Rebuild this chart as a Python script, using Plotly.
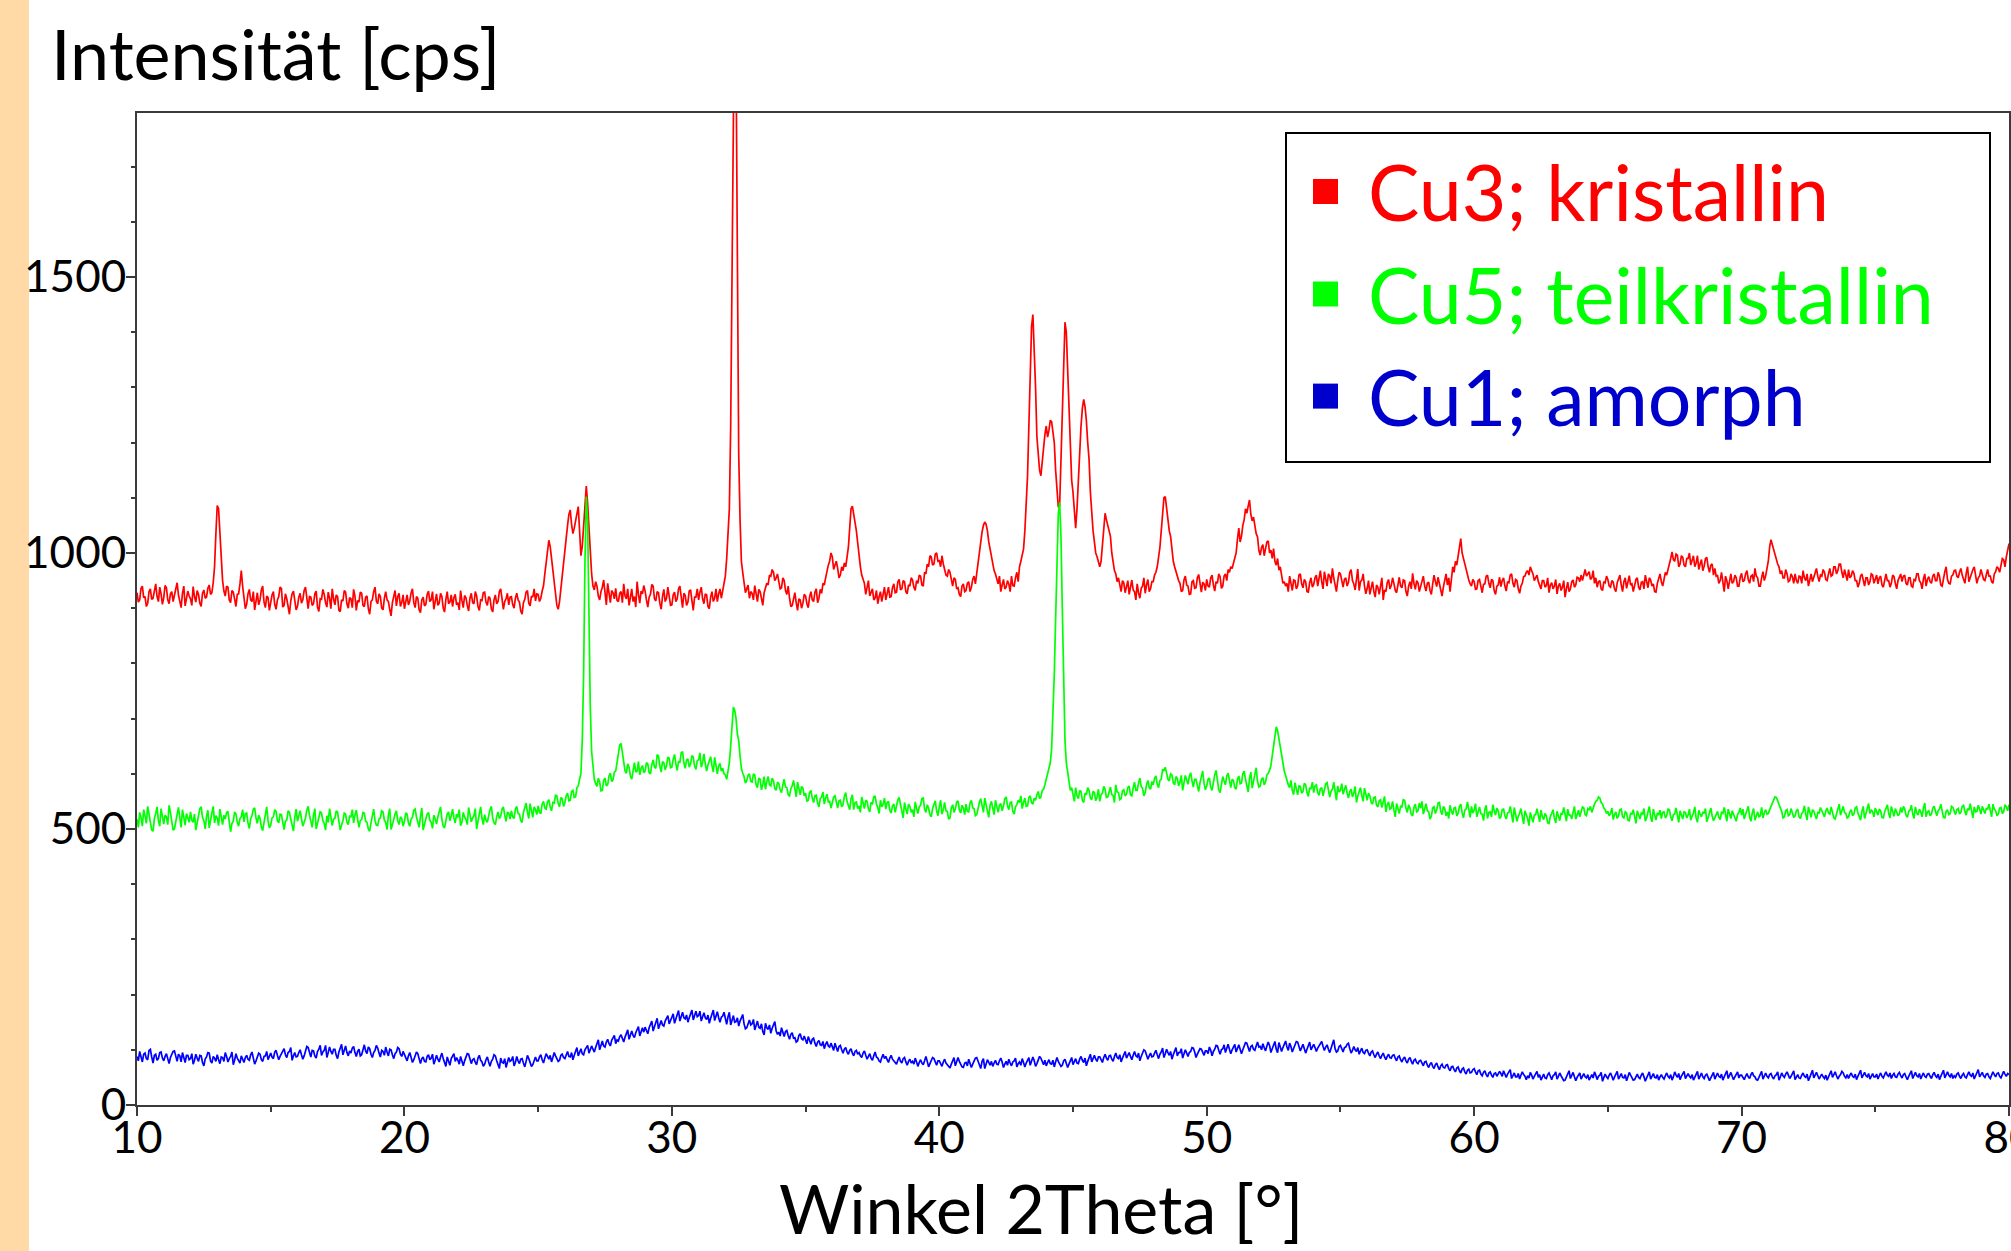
import plotly.graph_objects as go

# ---------------- data (0.05 deg steps) ----------------
two_theta_start = 10.0
two_theta_step = 0.05

cu3_kristallin = [
    928, 911, 915, 936, 940, 919, 921, 903, 909, 930, 935, 916, 918, 929, 944, 921, 912, 938, 926, 907,
    919, 941, 937, 915, 908, 926, 930, 912, 922, 934, 946, 924, 913, 901, 927, 940, 904, 918, 931, 922,
    917, 905, 939, 921, 911, 932, 925, 909, 903, 927, 933, 918, 920, 936, 942, 925, 928, 946, 975, 1035,
    1086, 1080, 1040, 985, 950, 931, 922, 940, 938, 915, 910, 932, 929, 917, 903, 925, 926, 944, 968, 940,
    921, 899, 907, 926, 934, 915, 912, 930, 897, 918, 928, 906, 915, 933, 940, 911, 901, 922, 919, 896,
    912, 924, 930, 907, 898, 915, 921, 938, 936, 902, 905, 926, 917, 900, 889, 913, 926, 931, 910, 897,
    903, 920, 927, 909, 915, 932, 938, 912, 899, 921, 920, 905, 908, 926, 931, 902, 894, 917, 916, 934,
    925, 910, 902, 929, 918, 899, 935, 917, 906, 924, 921, 896, 894, 915, 913, 932, 929, 908, 900, 919,
    917, 901, 934, 922, 896, 914, 911, 929, 927, 905, 903, 920, 922, 899, 889, 912, 915, 930, 938, 913,
    908, 926, 921, 900, 897, 918, 930, 915, 912, 898, 886, 910, 919, 932, 904, 921, 927, 903, 910, 924,
    899, 913, 924, 906, 913, 928, 935, 910, 901, 921, 918, 897, 892, 915, 920, 904, 907, 925, 931, 912,
    915, 930, 898, 912, 926, 905, 909, 927, 921, 900, 893, 916, 930, 908, 911, 924, 903, 919, 925, 906,
    910, 897, 932, 914, 901, 923, 919, 905, 895, 918, 927, 910, 908, 930, 922, 903, 896, 915, 914, 928,
    929, 911, 905, 921, 918, 899, 893, 915, 924, 908, 912, 930, 935, 917, 898, 912, 917, 927, 906, 920,
    921, 906, 900, 918, 927, 915, 911, 895, 889, 910, 916, 929, 932, 909, 904, 922, 920, 935, 913, 926,
    925, 912, 918, 931, 940, 962, 985, 1010, 1023, 1012, 990, 968, 948, 925, 905, 898, 912, 935, 960, 985,
    1010, 1032, 1050, 1070, 1078, 1052, 1035, 1045, 1058, 1075, 1084, 1040, 995, 1012, 1050, 1095, 1121, 1090, 1045, 1000,
    962, 940, 933, 948, 940, 922, 915, 930, 938, 951, 921, 906, 945, 925, 910, 932, 928, 917, 936, 914,
    912, 927, 930, 910, 944, 922, 917, 935, 905, 919, 935, 912, 921, 902, 948, 925, 909, 931, 926, 941,
    931, 915, 902, 920, 925, 943, 940, 917, 913, 930, 928, 909, 898, 921, 934, 912, 918, 938, 922, 905,
    906, 924, 929, 912, 917, 935, 940, 918, 901, 927, 923, 905, 911, 931, 933, 914, 896, 920, 920, 935,
    915, 929, 938, 917, 908, 926, 924, 903, 899, 920, 930, 912, 918, 935, 912, 926, 935, 918, 930, 945,
    958, 990, 1040, 1080, 1230, 1500, 1990, 2050, 1900, 1450, 1180, 1060, 985, 965, 950, 928, 935, 942, 918, 930,
    927, 915, 941, 925, 912, 934, 930, 918, 905, 928, 936, 945, 942, 960, 958, 970, 965, 950, 955, 962,
    948, 935, 937, 955, 950, 932, 925, 940, 918, 903, 905, 921, 928, 910, 896, 917, 915, 900, 909, 925,
    922, 908, 901, 920, 930, 915, 912, 929, 935, 910, 918, 934, 927, 945, 942, 955, 968, 978, 985, 1000,
    993, 970, 978, 985, 972, 955, 960, 975, 968, 982, 975, 990, 1010, 1045, 1080, 1085, 1070, 1062, 1040, 1018,
    993, 975, 960, 950, 945, 925, 937, 950, 922, 930, 935, 915, 918, 932, 908, 921, 930, 912, 924, 938,
    915, 930, 938, 920, 921, 937, 944, 928, 929, 948, 952, 933, 935, 950, 948, 930, 926, 942, 940, 955,
    951, 938, 932, 950, 945, 960, 958, 942, 940, 965, 962, 980, 975, 995, 993, 978, 980, 998, 1000, 985,
    986, 975, 995, 980, 972, 960, 958, 970, 965, 948, 940, 955, 952, 935, 937, 925, 921, 940, 944, 930,
    932, 945, 948, 930, 938, 952, 958, 944, 965, 980, 1000, 1025, 1038, 1050, 1056, 1052, 1040, 1020, 1005, 990,
    979, 968, 962, 950, 944, 958, 930, 942, 952, 935, 938, 950, 944, 930, 958, 941, 940, 955, 965, 948,
    975, 985, 995, 1007, 1040, 1083, 1140, 1230, 1330, 1410, 1432, 1380, 1300, 1210, 1175, 1150, 1140, 1165, 1195, 1215,
    1230, 1210, 1222, 1240, 1238, 1215, 1200, 1150, 1120, 1083, 1085, 1180, 1270, 1360, 1418, 1400, 1330, 1260, 1180, 1132,
    1110, 1070, 1045, 1080, 1140, 1174, 1230, 1262, 1278, 1265, 1240, 1200, 1170, 1110, 1063, 1040, 1020, 1000, 993, 985,
    975, 985, 1010, 1045, 1072, 1060, 1050, 1045, 1030, 1000, 979, 968, 962, 948, 955, 940, 930, 950, 946, 928,
    938, 950, 925, 940, 951, 933, 930, 915, 944, 928, 918, 936, 940, 955, 927, 942, 952, 930, 935, 948,
    948, 960, 965, 975, 990, 1010, 1040, 1075, 1100, 1102, 1080, 1060, 1040, 1030, 1000, 985, 975, 965, 958, 950,
    945, 930, 932, 951, 958, 942, 940, 925, 926, 948, 950, 936, 937, 955, 961, 940, 929, 947, 944, 932,
    952, 940, 938, 955, 960, 942, 931, 948, 945, 962, 957, 936, 940, 958, 962, 950, 970, 965, 975, 972,
    980, 992, 1000, 1025, 1045, 1020, 1030, 1050, 1060, 1080, 1072, 1085, 1096, 1070, 1058, 1065, 1048, 1035, 1029, 1005,
    996, 1010, 1015, 995, 1008, 1020, 1022, 1000, 1005, 990, 1008, 985, 978, 990, 969, 975, 960, 945, 948, 940,
    945, 930, 958, 942, 932, 951, 950, 935, 940, 960, 962, 944, 937, 952, 948, 930, 929, 946, 955, 938,
    943, 955, 960, 940, 952, 968, 948, 935, 966, 950, 940, 962, 958, 945, 972, 955, 945, 930, 950, 965,
    962, 948, 938, 952, 955, 940, 947, 965, 970, 950, 944, 933, 958, 971, 932, 948, 951, 962, 940, 926,
    936, 950, 925, 938, 948, 930, 920, 942, 938, 925, 944, 955, 915, 933, 930, 946, 952, 935, 941, 955,
    945, 932, 928, 945, 956, 940, 937, 951, 950, 930, 922, 940, 948, 935, 963, 945, 934, 950, 946, 930,
    940, 952, 958, 940, 931, 945, 947, 932, 925, 944, 960, 948, 939, 956, 945, 930, 922, 938, 950, 962,
    942, 955, 930, 950, 975, 965, 985, 978, 993, 1005, 1026, 1000, 990, 978, 970, 962, 951, 944, 940, 952,
    948, 934, 935, 950, 952, 940, 928, 943, 944, 958, 960, 945, 937, 952, 950, 932, 925, 940, 942, 956,
    939, 950, 955, 940, 931, 948, 946, 960, 962, 945, 938, 952, 950, 935, 927, 940, 945, 957, 958, 965,
    968, 960, 975, 968, 962, 950, 957, 960, 948, 940, 935, 950, 950, 938, 941, 955, 928, 942, 946, 935,
    940, 952, 926, 940, 945, 932, 938, 950, 920, 935, 947, 930, 935, 948, 951, 938, 942, 956, 955, 948,
    960, 950, 963, 970, 958, 962, 966, 952, 955, 968, 945, 955, 938, 948, 950, 935, 932, 948, 946, 958,
    952, 940, 938, 950, 947, 935, 930, 946, 955, 960, 942, 930, 948, 955, 936, 950, 959, 942, 944, 930,
    940, 952, 955, 938, 933, 947, 948, 935, 960, 950, 937, 955, 951, 940, 944, 930, 929, 945, 956, 962,
    948, 940, 952, 965, 960, 970, 975, 990, 1002, 988, 985, 998, 996, 975, 980, 995, 992, 978, 975, 990,
    990, 1000, 978, 985, 995, 975, 982, 995, 970, 980, 988, 968, 976, 990, 992, 975, 965, 978, 980, 960,
    972, 958, 960, 945, 950, 965, 942, 930, 958, 950, 935, 948, 962, 945, 948, 960, 955, 940, 940, 956,
    963, 948, 950, 962, 968, 952, 945, 958, 960, 948, 972, 958, 955, 940, 940, 955, 966, 950, 958, 972,
    985, 1011, 1024, 1015, 1005, 998, 990, 980, 975, 962, 968, 955, 955, 970, 962, 948, 950, 962, 957, 945,
    962, 950, 945, 958, 957, 945, 968, 955, 950, 962, 940, 952, 962, 948, 955, 966, 972, 958, 948, 960,
    958, 970, 965, 952, 950, 962, 972, 958, 960, 975, 975, 962, 968, 980, 980, 965, 955, 970, 962, 950,
    970, 955, 958, 968, 963, 950, 950, 938, 945, 958, 962, 948, 940, 955, 955, 942, 948, 962, 960, 945,
    952, 960, 944, 955, 958, 942, 938, 952, 962, 950, 950, 938, 945, 960, 957, 945, 935, 950, 956, 962,
    948, 958, 960, 945, 942, 955, 955, 940, 938, 952, 950, 962, 962, 950, 946, 935, 953, 962, 940, 952,
    957, 948, 945, 958, 962, 950, 950, 965, 958, 942, 940, 955, 966, 975, 952, 945, 944, 958, 960, 968,
    969, 958, 955, 965, 972, 960, 950, 945, 963, 975, 948, 956, 960, 970, 975, 960, 945, 955, 958, 970,
    963, 952, 950, 962, 970, 958, 958, 948, 945, 962, 966, 975, 972, 965, 980, 990, 988, 975, 993, 1005,
    1017,
]

cu5_teilkristallin = [
    518, 503, 530, 521, 505, 535, 524, 510, 541, 527, 512, 498, 496, 519, 528, 540, 515, 505, 537, 522,
    509, 525, 522, 508, 543, 530, 514, 498, 500, 517, 526, 539, 519, 503, 535, 521, 507, 528, 520, 512,
    531, 516, 512, 527, 498, 510, 525, 537, 540, 521, 515, 500, 523, 534, 502, 518, 529, 541, 511, 524,
    520, 506, 536, 522, 508, 525, 518, 530, 532, 513, 495, 510, 514, 531, 527, 512, 505, 519, 522, 535,
    513, 528, 529, 511, 501, 518, 524, 536, 538, 520, 510, 525, 519, 504, 497, 512, 526, 540, 515, 502,
    507, 520, 522, 535, 532, 515, 511, 527, 526, 509, 499, 514, 516, 533, 530, 518, 508, 496, 521, 536,
    514, 526, 533, 519, 505, 512, 520, 534, 541, 525, 512, 503, 525, 537, 500, 511, 518, 531, 529, 515,
    510, 498, 524, 512, 537, 521, 506, 518, 519, 533, 530, 514, 498, 507, 515, 529, 527, 512, 508, 523,
    522, 535, 511, 525, 534, 518, 503, 515, 517, 530, 529, 514, 512, 500, 496, 511, 524, 536, 515, 507,
    506, 518, 520, 533, 531, 516, 512, 499, 525, 537, 499, 511, 517, 527, 533, 515, 508, 522, 519, 505,
    514, 529, 527, 511, 505, 518, 521, 534, 536, 522, 510, 503, 523, 538, 498, 510, 518, 527, 530, 516,
    512, 501, 525, 518, 509, 522, 533, 540, 518, 505, 502, 516, 527, 531, 515, 524, 536, 520, 511, 527,
    521, 535, 506, 512, 530, 522, 517, 508, 539, 526, 513, 520, 524, 537, 500, 514, 528, 540, 519, 508,
    526, 516, 512, 527, 535, 541, 520, 511, 508, 522, 531, 519, 523, 536, 540, 525, 514, 530, 529, 518,
    533, 522, 519, 536, 541, 528, 527, 515, 512, 530, 538, 547, 530, 519, 546, 533, 521, 540, 535, 526,
    542, 530, 528, 545, 550, 538, 536, 549, 553, 540, 533, 548, 547, 561, 560, 546, 540, 557, 555, 541,
    548, 560, 565, 551, 552, 568, 570, 557, 558, 575, 578, 590, 600, 661, 780, 980, 1102, 1060, 870, 720,
    640, 610, 590, 582, 577, 592, 585, 569, 570, 588, 592, 578, 580, 596, 601, 586, 589, 603, 605, 620,
    640, 652, 655, 635, 615, 605, 601, 618, 612, 596, 590, 608, 620, 603, 605, 622, 598, 610, 615, 602,
    605, 620, 618, 602, 600, 616, 625, 612, 610, 635, 632, 614, 603, 622, 620, 607, 615, 630, 628, 611,
    612, 626, 635, 618, 606, 622, 621, 638, 640, 620, 610, 625, 627, 612, 618, 633, 630, 614, 608, 624,
    625, 638, 612, 620, 636, 618, 605, 616, 622, 631, 615, 603, 630, 612, 600, 614, 619, 605, 610, 600,
    598, 590, 602, 620, 650, 690, 721, 715, 700, 672, 660, 632, 610, 601, 595, 583, 588, 597, 600, 586,
    585, 600, 598, 580, 575, 592, 590, 571, 580, 595, 572, 586, 595, 580, 578, 592, 587, 573, 570, 585,
    582, 571, 566, 580, 590, 576, 575, 562, 560, 573, 578, 588, 570, 558, 585, 569, 562, 577, 574, 560,
    565, 550, 552, 566, 570, 556, 548, 560, 561, 547, 540, 555, 558, 567, 545, 556, 563, 549, 550, 538,
    547, 558, 560, 545, 538, 551, 552, 540, 544, 559, 566, 550, 541, 535, 555, 562, 535, 548, 549, 537,
    542, 530, 558, 544, 537, 552, 550, 536, 531, 548, 546, 558, 560, 545, 539, 528, 552, 540, 545, 556,
    536, 548, 550, 534, 529, 542, 545, 530, 540, 553, 557, 541, 532, 520, 548, 536, 527, 545, 541, 530,
    535, 522, 549, 538, 528, 540, 543, 555, 556, 536, 530, 544, 538, 526, 522, 537, 546, 551, 533, 524,
    540, 552, 527, 535, 548, 533, 532, 518, 520, 538, 544, 530, 536, 549, 551, 535, 529, 543, 538, 526,
    545, 532, 531, 547, 552, 538, 537, 524, 526, 541, 548, 555, 541, 530, 556, 542, 534, 521, 543, 550,
    538, 526, 552, 540, 530, 543, 546, 533, 541, 555, 558, 542, 535, 548, 549, 532, 527, 540, 544, 552,
    548, 560, 537, 548, 556, 541, 542, 557, 560, 548, 545, 556, 552, 562, 568, 555, 558, 570, 572, 580,
    590, 596, 605, 620, 645, 700, 780, 880, 1000, 1070, 1092, 1030, 900, 760, 660, 620, 600, 582, 570, 575,
    562, 550, 575, 560, 555, 570, 568, 552, 548, 565, 562, 575, 570, 556, 553, 568, 566, 551, 558, 572,
    550, 562, 565, 577, 572, 557, 558, 570, 576, 562, 561, 548, 580, 567, 566, 553, 555, 569, 571, 560,
    563, 575, 578, 562, 560, 574, 585, 570, 570, 583, 592, 577, 574, 560, 566, 580, 588, 575, 572, 586,
    580, 592, 596, 581, 575, 588, 590, 608, 605, 612, 603, 590, 587, 600, 598, 584, 580, 595, 592, 578,
    585, 597, 570, 584, 597, 589, 581, 595, 602, 587, 576, 590, 590, 579, 568, 584, 594, 605, 583, 571,
    578, 590, 592, 576, 570, 585, 598, 606, 583, 571, 566, 582, 595, 587, 580, 596, 601, 588, 575, 590,
    588, 575, 572, 590, 596, 582, 583, 600, 605, 590, 579, 567, 591, 603, 574, 588, 600, 611, 586, 576,
    578, 590, 593, 580, 585, 598, 601, 606, 615, 632, 650, 672, 685, 678, 665, 650, 637, 620, 605, 596,
    589, 580, 575, 588, 570, 562, 584, 574, 562, 578, 577, 565, 568, 583, 580, 566, 559, 574, 573, 585,
    566, 578, 580, 566, 561, 573, 575, 560, 569, 582, 584, 570, 558, 568, 572, 585, 565, 552, 578, 567,
    570, 582, 563, 571, 579, 565, 556, 568, 572, 558, 565, 577, 548, 560, 568, 575, 560, 550, 574, 561,
    552, 565, 560, 548, 545, 557, 558, 543, 540, 551, 553, 539, 547, 559, 531, 544, 549, 536, 538, 550,
    534, 522, 546, 535, 528, 541, 540, 553, 552, 538, 530, 544, 538, 526, 524, 539, 545, 531, 533, 547,
    538, 550, 527, 536, 546, 533, 531, 518, 523, 538, 540, 528, 535, 547, 548, 532, 526, 541, 537, 524,
    531, 519, 543, 532, 526, 538, 539, 524, 528, 541, 545, 530, 520, 534, 536, 549, 530, 521, 541, 529,
    534, 546, 522, 531, 540, 528, 527, 515, 535, 543, 519, 530, 531, 522, 544, 533, 525, 538, 533, 519,
    522, 535, 536, 524, 518, 529, 530, 541, 525, 512, 539, 528, 514, 523, 528, 537, 520, 509, 533, 526,
    519, 506, 530, 521, 512, 525, 526, 537, 521, 513, 534, 522, 517, 528, 524, 511, 510, 523, 528, 535,
    520, 511, 532, 524, 515, 528, 527, 539, 522, 514, 536, 525, 525, 518, 530, 541, 518, 527, 534, 522,
    529, 540, 538, 526, 524, 537, 535, 541, 530, 540, 545, 550, 552, 558, 556, 548, 545, 538, 535, 528,
    532, 524, 528, 538, 517, 526, 531, 519, 524, 535, 536, 522, 520, 531, 529, 516, 515, 528, 527, 535,
    522, 510, 533, 524, 518, 529, 527, 537, 514, 520, 530, 541, 521, 513, 536, 526, 516, 529, 525, 534,
    519, 530, 531, 520, 524, 536, 535, 522, 515, 526, 527, 538, 521, 512, 533, 525, 518, 531, 530, 520,
    525, 536, 516, 523, 529, 540, 520, 512, 534, 527, 522, 531, 528, 537, 513, 521, 531, 538, 524, 515,
    520, 528, 532, 521, 517, 530, 528, 539, 523, 514, 536, 527, 519, 533, 527, 518, 514, 526, 530, 538,
    525, 536, 518, 526, 533, 541, 522, 514, 529, 537, 516, 525, 531, 522, 524, 539, 520, 529, 535, 527,
    528, 535, 540, 548, 552, 558, 557, 550, 545, 538, 532, 520, 522, 533, 535, 524, 526, 537, 530, 521,
    524, 533, 536, 522, 519, 528, 531, 542, 527, 516, 540, 531, 521, 534, 533, 525, 518, 530, 529, 539,
    534, 526, 522, 533, 538, 529, 527, 540, 531, 520, 518, 529, 536, 545, 525, 533, 541, 530, 528, 520,
    522, 531, 535, 524, 527, 538, 540, 529, 524, 516, 532, 541, 519, 527, 537, 546, 528, 535, 531, 522,
    538, 529, 525, 536, 533, 521, 520, 531, 536, 544, 529, 520, 541, 533, 523, 537, 532, 524, 527, 539,
    530, 541, 536, 525, 521, 532, 534, 543, 527, 519, 540, 529, 525, 536, 531, 522, 538, 547, 522, 531,
    533, 524, 527, 538, 541, 530, 524, 533, 536, 545, 530, 521, 520, 532, 535, 526, 528, 541, 539, 530,
    526, 535, 537, 527, 530, 541, 543, 532, 525, 537, 534, 546, 528, 520, 540, 531, 532, 543, 536, 527,
    541, 532, 528, 537, 536, 545, 530, 522, 545, 536, 533, 524, 527, 538, 539, 528, 531, 544, 540, 533,
    544,
]

cu1_amorph = [
    88, 80, 97, 89, 78, 92, 94, 84, 82, 99, 101, 87, 76, 90, 92, 81, 84, 95, 96, 85,
    80, 88, 93, 84, 75, 86, 91, 97, 98, 85, 79, 92, 89, 78, 95, 86, 77, 90, 90, 82,
    84, 93, 74, 81, 92, 85, 79, 90, 89, 77, 71, 83, 87, 95, 94, 80, 76, 88, 85, 79,
    91, 82, 75, 87, 86, 79, 95, 88, 78, 84, 88, 96, 73, 81, 93, 85, 80, 76, 89, 83,
    77, 86, 90, 83, 81, 91, 96, 85, 74, 80, 87, 94, 92, 82, 79, 88, 89, 97, 82, 90,
    94, 87, 84, 96, 99, 90, 82, 88, 93, 100, 102, 91, 86, 95, 97, 104, 81, 89, 95, 87,
    88, 95, 100, 91, 83, 89, 96, 106, 104, 94, 87, 99, 98, 89, 85, 97, 101, 108, 90, 96,
    99, 108, 86, 95, 105, 97, 92, 101, 101, 90, 84, 96, 103, 110, 91, 100, 107, 95, 89, 98,
    94, 103, 106, 95, 88, 97, 101, 89, 91, 100, 109, 98, 93, 105, 102, 92, 86, 95, 99, 108,
    103, 94, 87, 99, 97, 90, 105, 96, 89, 101, 100, 91, 84, 93, 96, 104, 102, 92, 88, 97,
    90, 84, 80, 89, 95, 86, 77, 82, 88, 96, 93, 83, 75, 84, 87, 79, 78, 88, 91, 82,
    85, 92, 74, 81, 90, 83, 78, 87, 94, 84, 76, 70, 87, 80, 72, 84, 89, 93, 79, 86,
    81, 74, 88, 79, 71, 80, 86, 93, 92, 83, 75, 82, 84, 77, 73, 85, 90, 81, 78, 70,
    74, 82, 87, 78, 70, 79, 83, 91, 89, 80, 72, 66, 85, 77, 76, 84, 68, 75, 86, 79,
    81, 88, 71, 77, 88, 80, 75, 83, 84, 76, 69, 79, 90, 84, 78, 70, 73, 82, 87, 80,
    80, 87, 91, 82, 76, 85, 93, 88, 83, 90, 78, 86, 95, 89, 85, 79, 81, 90, 92, 86,
    84, 93, 97, 88, 87, 95, 82, 90, 99, 104, 89, 96, 102, 93, 91, 100, 105, 108, 94, 101,
    107, 101, 96, 104, 112, 118, 100, 109, 116, 107, 105, 114, 119, 111, 107, 117, 122, 126, 111, 118,
    116, 124, 127, 119, 114, 123, 130, 136, 119, 128, 134, 126, 122, 131, 137, 142, 125, 134, 140, 132,
    141, 135, 129, 140, 146, 152, 134, 143, 150, 157, 138, 148, 153, 145, 143, 152, 157, 162, 147, 155,
    159, 165, 148, 156, 164, 171, 152, 160, 168, 158, 156, 163, 150, 158, 165, 172, 154, 162, 170, 160,
    162, 170, 152, 160, 167, 158, 155, 163, 148, 157, 164, 172, 153, 161, 169, 158, 150, 159, 161, 168,
    153, 146, 160, 168, 145, 155, 162, 150, 151, 158, 143, 152, 158, 164, 147, 138, 140, 149, 154, 145,
    147, 155, 136, 144, 152, 141, 139, 147, 133, 127, 148, 140, 137, 145, 130, 139, 145, 151, 134, 128,
    132, 125, 140, 131, 124, 133, 135, 126, 119, 128, 131, 121, 122, 114, 116, 126, 129, 120, 118, 125,
    118, 111, 124, 116, 110, 119, 121, 112, 106, 114, 117, 109, 108, 115, 102, 110, 115, 107, 105, 112,
    105, 99, 112, 103, 97, 106, 108, 100, 94, 101, 104, 96, 92, 99, 102, 94, 89, 97, 99, 92,
    95, 89, 86, 94, 98, 90, 83, 88, 93, 85, 81, 89, 96, 87, 85, 80, 78, 86, 92, 84,
    88, 82, 77, 85, 90, 83, 80, 75, 74, 81, 87, 79, 76, 84, 86, 78, 72, 79, 83, 76,
    79, 74, 85, 78, 70, 77, 82, 76, 73, 80, 88, 79, 69, 75, 81, 86, 84, 77, 72, 80,
    80, 75, 70, 78, 83, 76, 73, 68, 67, 74, 81, 86, 71, 78, 86, 79, 74, 69, 68, 76,
    77, 71, 83, 75, 68, 74, 80, 85, 86, 78, 71, 66, 79, 84, 66, 73, 82, 77, 72, 79,
    70, 76, 81, 74, 73, 80, 85, 78, 68, 74, 79, 72, 83, 76, 71, 78, 80, 85, 69, 75,
    78, 72, 84, 77, 69, 76, 81, 86, 72, 79, 87, 80, 70, 75, 80, 88, 85, 78, 73, 81,
    71, 77, 82, 75, 74, 81, 69, 78, 86, 79, 75, 70, 72, 80, 83, 76, 68, 74, 80, 86,
    73, 80, 84, 76, 75, 83, 88, 81, 77, 85, 71, 79, 86, 92, 78, 84, 90, 83, 79, 87,
    87, 82, 77, 86, 92, 85, 81, 89, 90, 83, 79, 88, 94, 86, 84, 91, 78, 85, 91, 97,
    85, 91, 95, 88, 82, 90, 97, 89, 87, 94, 80, 88, 93, 100, 98, 90, 83, 89, 94, 87,
    88, 94, 99, 91, 84, 92, 96, 103, 86, 93, 101, 95, 90, 97, 83, 91, 98, 104, 89, 95,
    95, 102, 85, 93, 100, 94, 88, 95, 97, 104, 103, 96, 86, 92, 96, 102, 101, 94, 90, 98,
    98, 93, 105, 99, 89, 97, 101, 108, 107, 99, 92, 100, 102, 109, 95, 103, 110, 101, 93, 100,
    104, 110, 96, 103, 109, 101, 93, 100, 106, 113, 112, 104, 97, 106, 108, 101, 99, 107, 114, 105,
    106, 100, 111, 104, 98, 107, 114, 108, 95, 102, 108, 115, 101, 95, 113, 106, 97, 104, 109, 116,
    105, 99, 112, 106, 96, 103, 107, 115, 114, 106, 98, 104, 110, 102, 94, 101, 108, 114, 100, 107,
    110, 104, 97, 103, 107, 113, 115, 106, 99, 105, 109, 101, 95, 103, 112, 118, 102, 96, 98, 106,
    108, 101, 96, 104, 105, 110, 112, 102, 94, 99, 106, 100, 97, 104, 92, 98, 103, 95, 93, 99,
    100, 94, 89, 96, 98, 91, 86, 92, 96, 89, 84, 90, 94, 87, 82, 88, 92, 86, 85, 90,
    91, 85, 80, 87, 89, 82, 78, 84, 87, 80, 76, 83, 86, 79, 74, 81, 83, 77, 75, 80,
    81, 76, 71, 78, 79, 72, 68, 74, 77, 70, 66, 73, 76, 69, 64, 71, 74, 68, 67, 72,
    73, 66, 62, 69, 70, 64, 60, 67, 69, 62, 58, 65, 67, 60, 56, 63, 65, 58, 59, 64,
    66, 60, 55, 62, 63, 56, 53, 59, 62, 55, 51, 58, 60, 54, 50, 57, 58, 52, 57, 61,
    57, 52, 62, 55, 50, 56, 59, 64, 48, 53, 58, 51, 51, 57, 47, 54, 60, 55, 52, 46,
    53, 49, 59, 54, 47, 52, 57, 61, 50, 55, 45, 51, 56, 49, 48, 55, 58, 52, 46, 53,
    55, 60, 47, 52, 58, 53, 49, 44, 45, 51, 56, 62, 48, 53, 59, 51, 44, 50, 54, 58,
    47, 53, 57, 51, 49, 55, 45, 50, 55, 49, 60, 54, 46, 52, 54, 59, 43, 50, 56, 51,
    48, 54, 58, 52, 45, 51, 55, 61, 47, 53, 57, 50, 49, 55, 44, 51, 59, 54, 50, 45,
    46, 52, 56, 50, 48, 54, 58, 51, 43, 49, 55, 60, 47, 53, 57, 50, 49, 55, 45, 51,
    55, 50, 47, 53, 58, 52, 49, 55, 45, 51, 60, 54, 50, 57, 46, 52, 56, 61, 48, 54,
    57, 52, 49, 55, 45, 50, 55, 61, 47, 53, 58, 51, 48, 54, 56, 50, 44, 49, 54, 59,
    47, 53, 58, 52, 50, 56, 45, 51, 56, 62, 48, 54, 59, 52, 46, 51, 55, 60, 49, 54,
    54, 49, 46, 52, 57, 51, 48, 55, 59, 53, 51, 46, 45, 50, 56, 61, 47, 53, 58, 52,
    49, 55, 57, 51, 47, 53, 55, 60, 45, 51, 58, 53, 50, 56, 60, 54, 48, 52, 56, 62,
    46, 52, 55, 49, 48, 54, 58, 52, 50, 56, 44, 50, 57, 63, 49, 55, 59, 53, 47, 52,
    56, 51, 48, 54, 45, 51, 57, 62, 50, 55, 60, 53, 47, 52, 55, 61, 58, 52, 49, 55,
    48, 54, 58, 52, 50, 56, 46, 52, 57, 63, 49, 55, 59, 53, 51, 57, 47, 52, 57, 51,
    51, 56, 47, 53, 58, 52, 49, 55, 60, 54, 52, 58, 48, 54, 57, 51, 50, 56, 59, 53,
    49, 55, 57, 51, 46, 52, 56, 62, 48, 54, 59, 53, 51, 57, 47, 53, 58, 52, 50, 56,
    57, 52, 48, 55, 59, 53, 50, 56, 46, 52, 57, 63, 49, 55, 60, 54, 51, 57, 48, 53,
    50, 56, 58, 52, 48, 54, 57, 51, 49, 55, 60, 54, 52, 58, 47, 53, 58, 64, 51, 56,
    59, 53, 50, 56, 57, 51, 48, 54, 60, 55, 51, 57, 58, 52, 49, 55, 61, 56, 52, 57,
    55,
]

series_names = ["Cu3; kristallin", "Cu5; teilkristallin", "Cu1; amorph"]
series_values = [cu3_kristallin, cu5_teilkristallin, cu1_amorph]

x_tick_values = [10, 20, 30, 40, 50, 60, 70, 80]
y_tick_values = [0, 500, 1000, 1500]

for s in series_values:
    assert len(s) == 1401, len(s)

two_theta = [round(two_theta_start + two_theta_step * i, 2) for i in range(len(cu3_kristallin))]

# ---------------- styles / layout ----------------
line_colors = ["#ff0000", "#00ff00", "#0000ff"]
legend_colors = ["#ff0000", "#00ff00", "#0000cc"]
FONT = "Lato"
W, H = 2011, 1251
L, R, T, B = 137, 2, 113, 146
PW, PH = W - L - R, H - T - B


def px_x(p):
    return (p - L) / PW


def px_y(p):
    return (H - B - p) / PH


fig = go.Figure()
for name, vals, col in zip(series_names, series_values, line_colors):
    fig.add_trace(go.Scatter(x=two_theta, y=vals, mode="lines", name=name,
                             line=dict(color=col, width=1.7), showlegend=False))

axis_col = "#3a3a3a"
common = dict(showline=True, linewidth=2, linecolor=axis_col, mirror=True,
              showgrid=False, zeroline=False, ticks="outside", ticklen=9,
              tickwidth=2, tickcolor=axis_col, ticklabeloverflow="allow",
              automargin=False,
              tickfont=dict(family=FONT, size=44, color="black"))

fig.update_xaxes(range=[10, 80], tickvals=x_tick_values, ticklabelstandoff=-16,
                 minor=dict(dtick=5, tick0=10, ticks="outside", ticklen=5,
                            tickwidth=1.5, tickcolor=axis_col, showgrid=False),
                 **common)
fig.update_yaxes(range=[0, 1797], tickvals=y_tick_values, ticklabelstandoff=-9,
                 minor=dict(dtick=100, tick0=0, ticks="outside", ticklen=4,
                            tickwidth=1.5, tickcolor=axis_col, showgrid=False),
                 **common)

shapes = [
    # orange side strip
    dict(type="rect", xref="paper", yref="paper", x0=px_x(0), x1=px_x(29),
         y0=px_y(H), y1=px_y(0), fillcolor="#ffd9a6", line=dict(width=0),
         layer="below"),
    # legend frame
    dict(type="rect", xref="paper", yref="paper", x0=px_x(1286), x1=px_x(1990),
         y0=px_y(462), y1=px_y(133), fillcolor="white",
         line=dict(color="black", width=2), layer="above"),
]
annotations = [
    dict(text="Intensität [cps]", xref="paper", yref="paper", x=px_x(49),
         y=px_y(53), xanchor="left", yanchor="middle", showarrow=False,
         font=dict(family=FONT, size=70, color="black")),
    dict(text="Winkel 2Theta [°]", xref="paper", yref="paper", x=px_x(1041),
         y=px_y(1207), xanchor="center", yanchor="middle", showarrow=False,
         font=dict(family=FONT, size=68, color="black")),
]
row_centers = [191, 293.5, 395.6]
for name, col, cy in zip(series_names, legend_colors, row_centers):
    sq = cy + 0.5
    shapes.append(dict(type="rect", xref="paper", yref="paper",
                       x0=px_x(1313), x1=px_x(1338), y0=px_y(sq + 12.5),
                       y1=px_y(sq - 12.5), fillcolor=col, line=dict(width=0),
                       layer="above"))
    annotations.append(dict(text=name, xref="paper", yref="paper", x=px_x(1366),
                            y=px_y(cy), xanchor="left", yanchor="middle",
                            showarrow=False,
                            font=dict(family=FONT, size=77, color=col)))

fig.update_layout(width=W, height=H, margin=dict(l=L, r=R, t=T, b=B, pad=0, autoexpand=False),
                  paper_bgcolor="white", plot_bgcolor="white",
                  font=dict(family=FONT, color="black"),
                  shapes=shapes, annotations=annotations, showlegend=False)

fig.write_html("out.html", config={"displayModeBar": False},
               post_script="document.body.style.margin='0';"
                           "document.body.style.overflow='hidden';")
